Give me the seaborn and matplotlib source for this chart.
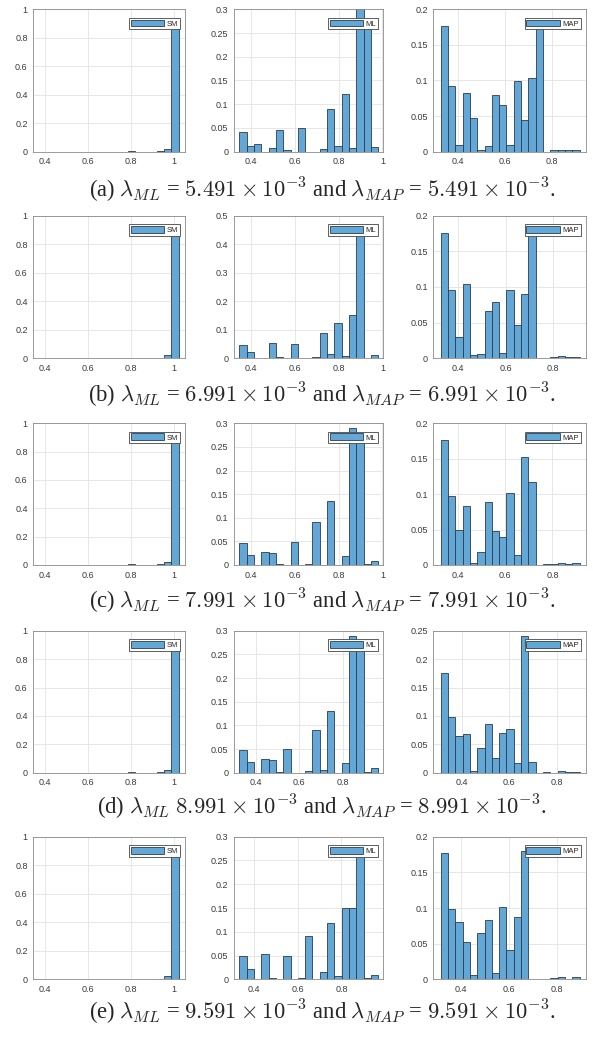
import numpy as np
import pandas as pd
import seaborn as sns
import matplotlib.pyplot as plt
from matplotlib.patches import Patch
from matplotlib.ticker import FuncFormatter

sns.set_style('white')
plt.rcParams['font.family'] = ['Liberation Sans', 'DejaVu Sans']
plt.rcParams['mathtext.fontset'] = 'cm'

# ---- data (bin heights) ----
# SM: identical in every row, 20 bins
sm_lo, sm_w = 0.352, 0.0334
sm = [0, 0, 0, 0, 0, 0, 0, 0, 0, 0, 0, 0, 0, 0.004, 0, 0, 0, 0.005, 0.02, 0.90]

# ML: 19 bins per row
ml_lo = [0.3485, 0.3485, 0.3485, 0.326, 0.335]
ml_w = [0.0333, 0.0333, 0.0333, 0.0334, 0.0333]
ml_a = [0.041, 0.013, 0.016, 0, 0.008, 0.046, 0.003, 0, 0.050, 0, 0, 0.005, 0.091, 0.013, 0.122, 0.008, 0.330, 0.265, 0.010]
ml_b = [0.047, 0.022, 0, 0, 0.054, 0.003, 0, 0.050, 0, 0, 0.003, 0.090, 0.014, 0.123, 0.008, 0.152, 0.440, 0.002, 0.010]
ml_c = [0.047, 0.022, 0, 0.0275, 0.025, 0.002, 0, 0.049, 0, 0.0015, 0.092, 0, 0.135, 0, 0.020, 0.289, 0.265, 0.0015, 0.009]
ml_d = [0.047, 0.022, 0, 0.028, 0.026, 0.002, 0.050, 0, 0, 0.0035, 0.090, 0.0056, 0.130, 0, 0.020, 0.289, 0.270, 0.002, 0.010]
ml_e = [0.048, 0.022, 0, 0.053, 0.002, 0, 0.050, 0, 0.002, 0.092, 0, 0.015, 0.119, 0.0077, 0.150, 0.151, 0.265, 0.002, 0.010]
ml_ymax = [0.3, 0.5, 0.3, 0.3, 0.3]
ml_ystep = [0.05, 0.1, 0.05, 0.05, 0.05]

# MAP: 19 bins per row
map_lo = [0.328, 0.3256, 0.328, 0.3115, 0.3167]
map_w = [0.0311, 0.0308, 0.0309, 0.0308, 0.0305]
map_a = [0.177, 0.092, 0.010, 0.083, 0.048, 0.003, 0.008, 0.079, 0.066, 0.009, 0.099, 0.045, 0.103, 0.180, 0, 0.002, 0.002, 0.003, 0.002]
map_b = [0.176, 0.096, 0.030, 0.104, 0.004, 0.0066, 0.067, 0.079, 0.008, 0.096, 0.047, 0.090, 0.180, 0, 0.001, 0.0015, 0.003, 0.0015, 0.0025]
map_c = [0.177, 0.097, 0.050, 0.083, 0.0025, 0.018, 0.089, 0.0475, 0.040, 0.102, 0.0137, 0.153, 0.117, 0, 0.001, 0.001, 0.0025, 0.001, 0.0025]
map_d = [0.175, 0.098, 0.065, 0.068, 0.003, 0.043, 0.086, 0.026, 0.0706, 0.0765, 0.0176, 0.240, 0.019, 0, 0.001, 0, 0.0023, 0.001, 0.001]
map_e = [0.177, 0.098, 0.081, 0.053, 0.0056, 0.0645, 0.083, 0.0084, 0.102, 0.0407, 0.087, 0.180, 0, 0, 0.001, 0.0015, 0.003, 0.001, 0.003]
map_ymax = [0.2, 0.2, 0.2, 0.25, 0.2]

row_tags = ['a', 'b', 'c', 'd', 'e']
lam_ml = ['5.491', '6.991', '7.991', '8.991', '9.591']
lam_map = ['5.491', '6.991', '7.991', '8.991', '9.591']

ml_rows = [ml_a, ml_b, ml_c, ml_d, ml_e]
map_rows = [map_a, map_b, map_c, map_d, map_e]

bar_color = '#62a7d6'
edge_color = '#2b3b4e'


def draw_hist(ax, lo, w, heights, label, ymax, ystep, pad_l, pad_r):
    n = len(heights)
    edges = lo + w * np.arange(n + 1)
    df = pd.DataFrame({'x': (edges[:-1] + edges[1:]) / 2, 'h': heights})
    sns.histplot(data=df, x='x', weights='h', bins=list(edges), ax=ax, color=bar_color,
                 alpha=1, edgecolor=edge_color, linewidth=0.6)
    ax.set_ylim(0, ymax)
    ax.set_yticks(np.arange(0, ymax + 1e-9, ystep))
    ax.set_xticks([0.4, 0.6, 0.8, 1.0])
    ax.set_xlim(lo - pad_l * w, lo + (n + pad_r) * w)
    fmt = FuncFormatter(lambda v, p: f'{round(v, 4):g}')
    ax.xaxis.set_major_formatter(fmt)
    ax.yaxis.set_major_formatter(fmt)
    ax.set_xlabel('')
    ax.set_ylabel('')
    ax.grid(True, color='#e3e3e3', linewidth=0.6)
    ax.set_axisbelow(True)
    for s in ax.spines.values():
        s.set_color('#8a8a8a')
        s.set_linewidth(0.6)
    ax.tick_params(direction='in', length=2, width=0.5, color='#555555',
                   labelsize=6.5, labelcolor='#3a3a3a', pad=4)
    handle = Patch(facecolor=bar_color, edgecolor=edge_color, linewidth=0.6, label=label)
    leg = ax.legend(handles=[handle], loc='upper right', bbox_to_anchor=(0.965, 0.94),
                    borderaxespad=0, fontsize=5.5, handlelength=4.4, handleheight=1.0,
                    handletextpad=0.3, borderpad=0.22, fancybox=False, framealpha=1)
    leg.get_frame().set_edgecolor('#444444')
    leg.get_frame().set_linewidth(0.6)


fig = plt.figure(figsize=(5.93, 10.41), dpi=100)
H = 1041.0
W = 593.0
rows_px = [(9.3, 151.7), (215.7, 358.3), (423.3, 565.0), (630.7, 772.7), (836.7, 979.3)]
cols_px = [(33.3, 185.0), (234.0, 383.3), (433.3, 586.0)]
caption_y = [190, 395, 601, 807, 1012]

for i, (t, b) in enumerate(rows_px):
    axes = []
    for (l, r) in cols_px:
        axes.append(fig.add_axes([l / W, 1 - b / H, (r - l) / W, (b - t) / H]))
    draw_hist(axes[0], sm_lo, sm_w, sm, 'SM', 1.0, 0.2, 0.22, 0.9)
    draw_hist(axes[1], ml_lo[i], ml_w[i], ml_rows[i], 'ML', ml_ymax[i], ml_ystep[i], 0.73, 0.68)
    draw_hist(axes[2], map_lo[i], map_w[i], map_rows[i], 'MAP', map_ymax[i], 0.05, 1.0, 0.87)

    eq = '' if row_tags[i] == 'd' else ' ='
    cap = (f'({row_tags[i]}) $\\lambda_{{ML}}${eq} ${lam_ml[i]} \\times 10^{{-3}}$ and '
           f'$\\lambda_{{MAP}}$ = ${lam_map[i]} \\times 10^{{-3}}$.')
    fig.text(322 / W, 1 - caption_y[i] / H, cap, ha='center', va='center',
             fontsize=16.3, family='Liberation Serif')

fig.savefig('out.png', dpi=100)
